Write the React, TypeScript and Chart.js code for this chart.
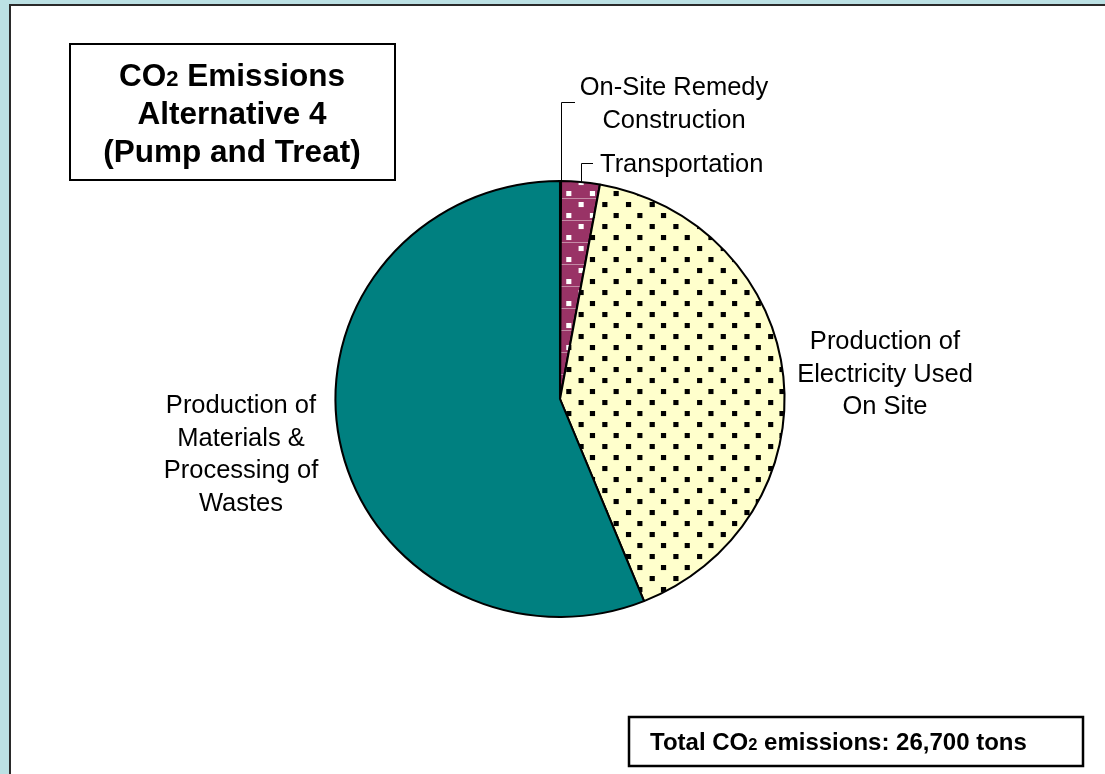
import React, { useEffect, useRef } from "react";
import { Chart, registerables } from "chart.js";

Chart.register(...registerables);

const categories = [
  "On-Site Remedy Construction",
  "Transportation",
  "Production of Electricity Used On Site",
  "Production of Materials & Processing of Wastes",
];
const emissionsTons = [20, 740, 10960, 14980];
const labelLines = [
  ["On-Site Remedy", "Construction"],
  ["Transportation"],
  ["Production of", "Electricity Used", "On Site"],
  ["Production of", "Materials &", "Processing of", "Wastes"],
];
const titleLines = ["Emissions", "Alternative 4", "(Pump and Treat)"];
const totalText = { pre: "Total CO", sub: "2", post: " emissions: 26,700 tons" };

const FONT = '"Liberation Sans", Arial, sans-serif';
const STRETCH_X = 1.03;

function makePattern(bg: string, dot: string, stripe?: string): CanvasPattern | string {
  const c = document.createElement("canvas");
  c.width = 23;
  c.height = 22;
  const g = c.getContext("2d");
  if (!g) return bg;
  g.fillStyle = bg;
  g.fillRect(0, 0, 23, 22);
  if (stripe) {
    g.fillStyle = stripe;
    g.fillRect(0, 0, 23, 1);
  }
  g.fillStyle = dot;
  g.fillRect(3, 4, 5, 5);
  g.fillRect(14, 15, 5, 5);
  const p = g.createPattern(c, "repeat");
  return p || bg;
}

export default function App() {
  const ref = useRef<HTMLCanvasElement | null>(null);

  useEffect(() => {
    const canvas = ref.current;
    if (!canvas) return;

    const yellowPat = makePattern("#FFFFCC", "#000000");
    const magentaPat = makePattern("#993366", "#FFFFFF", "#c58aa6");

    const stretch = {
      id: "stretch",
      beforeDatasetsDraw(chart: any) {
        const ctx = chart.ctx as CanvasRenderingContext2D;
        const a = chart.getDatasetMeta(0).data[0];
        ctx.save();
        ctx.translate(a.x, 0);
        ctx.scale(STRETCH_X, 1);
        ctx.translate(-a.x, 0);
      },
      afterDatasetsDraw(chart: any) {
        chart.ctx.restore();
      },
    };

    const decor = {
      id: "decor",
      beforeDraw(chart: any) {
        const ctx = chart.ctx as CanvasRenderingContext2D;
        ctx.save();
        ctx.fillStyle = "#BCE1E4";
        ctx.fillRect(0, 0, chart.width, chart.height);
        ctx.fillStyle = "#FFFFFF";
        ctx.fillRect(10, 5, chart.width, chart.height);
        ctx.strokeStyle = "#2a2a2a";
        ctx.lineWidth = 2;
        ctx.beginPath();
        ctx.moveTo(10, chart.height);
        ctx.lineTo(10, 5);
        ctx.lineTo(chart.width, 5);
        ctx.stroke();
        ctx.restore();
      },
      afterDraw(chart: any) {
        const ctx = chart.ctx as CanvasRenderingContext2D;
        const arcs = chart.getDatasetMeta(0).data;
        ctx.save();

        // Title box
        ctx.fillStyle = "#FFFFFF";
        ctx.fillRect(70, 44, 325, 136);
        ctx.strokeStyle = "#000";
        ctx.lineWidth = 2;
        ctx.strokeRect(70, 44, 325, 136);
        ctx.fillStyle = "#000";
        const tcx = 232;
        const big = `bold 31.5px ${FONT}`;
        const small = `bold 22px ${FONT}`;
        ctx.font = big;
        const wCO = ctx.measureText("CO").width;
        const wRest = ctx.measureText(" " + titleLines[0]).width;
        ctx.font = small;
        const w2 = ctx.measureText("2").width;
        const x = tcx - (wCO + w2 + wRest) / 2;
        ctx.textAlign = "left";
        ctx.textBaseline = "alphabetic";
        ctx.font = big;
        ctx.fillText("CO", x, 86);
        ctx.font = small;
        ctx.fillText("2", x + wCO, 86);
        ctx.font = big;
        ctx.fillText(" " + titleLines[0], x + wCO + w2, 86);
        ctx.textAlign = "center";
        ctx.fillText(titleLines[1], tcx, 124);
        ctx.fillText(titleLines[2], tcx, 162);

        // Total box
        ctx.fillStyle = "#FFFFFF";
        ctx.fillRect(629, 717, 454, 49);
        ctx.strokeStyle = "#000";
        ctx.lineWidth = 2.5;
        ctx.strokeRect(629, 717, 454, 49);
        ctx.fillStyle = "#000";
        ctx.textAlign = "left";
        const tb = `bold 24px ${FONT}`;
        const ts = `bold 16.5px ${FONT}`;
        let tx = 650;
        ctx.font = tb;
        ctx.fillText(totalText.pre, tx, 750);
        tx += ctx.measureText(totalText.pre).width;
        ctx.font = ts;
        ctx.fillText(totalText.sub, tx, 750);
        tx += ctx.measureText(totalText.sub).width;
        ctx.font = tb;
        ctx.fillText(totalText.post, tx, 750);

        // Slice labels
        ctx.font = `25.5px ${FONT}`;
        ctx.textAlign = "center";
        ctx.textBaseline = "middle";
        const lh = 32.5;
        const drawLines = (lines: string[], cx: number, y0: number) => {
          lines.forEach((l, i) => ctx.fillText(l, cx, y0 + i * lh));
        };
        drawLines(labelLines[0], 674, 88);
        ctx.textAlign = "left";
        drawLines(labelLines[1], 600, 165);
        ctx.textAlign = "center";
        drawLines(labelLines[2], 885, 342);
        drawLines(labelLines[3], 241, 406);

        // Leader lines
        ctx.strokeStyle = "#000";
        ctx.lineWidth = 1;
        const leader = (arc: any, topY: number, endX: number) => {
          const mid = (arc.startAngle + arc.endAngle) / 2;
          const sx = arc.x + Math.cos(mid) * arc.outerRadius * STRETCH_X;
          const sy = arc.y + Math.sin(mid) * arc.outerRadius;
          ctx.beginPath();
          ctx.moveTo(Math.round(sx) + 0.5, sy);
          ctx.lineTo(Math.round(sx) + 0.5, topY + 0.5);
          ctx.lineTo(endX, topY + 0.5);
          ctx.stroke();
        };
        leader(arcs[0], 102, 575);
        leader(arcs[1], 163, 593);
        ctx.restore();
      },
    };

    const chart = new Chart(canvas, {
      type: "pie",
      data: {
        labels: categories,
        datasets: [
          {
            data: emissionsTons,
            backgroundColor: ["#333399", magentaPat, yellowPat, "#008080"] as any,
            borderColor: "#000000",
            borderWidth: 2,
            radius: 218,
          } as any,
        ],
      },
      options: {
        animation: false,
        responsive: false,
        devicePixelRatio: 1,
        layout: { padding: { left: 115, right: 100, top: 124, bottom: 100 } },
        plugins: {
          legend: { display: false },
          tooltip: { enabled: false },
          title: { display: false },
        },
      },
      plugins: [stretch, decor],
    });
    return () => chart.destroy();
  }, []);

  return (
    <div style={{ position: "fixed", left: 0, top: 0, width: 1105, height: 774 }}>
      <canvas ref={ref} width={1105} height={774} style={{ width: 1105, height: 774, display: "block" }} />
    </div>
  );
}
